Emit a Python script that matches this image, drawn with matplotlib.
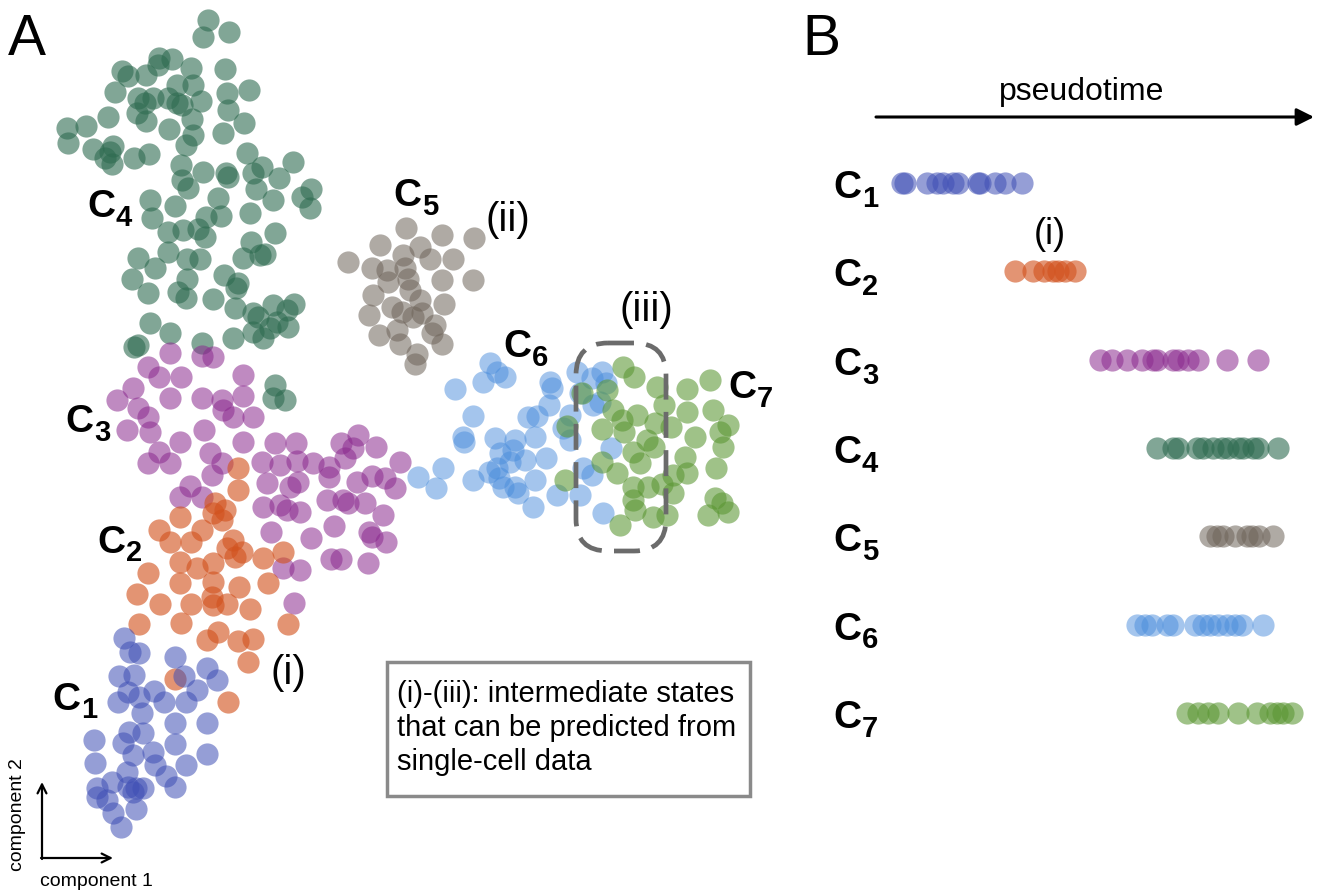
import matplotlib
matplotlib.use('Agg')
import matplotlib.pyplot as plt
from matplotlib.patches import FancyBboxPatch, Rectangle

plt.rcParams['font.family'] = ['Liberation Sans', 'DejaVu Sans']

# panel A: cells in (component 1, component 2) space, image-like units
c1_pts = [(124,638),(130,652),(139,653),(175,657),(119,676),(134,675),(184,676),(207,668),
          (217,680),(128,692),(118,702),(139,697),(154,691),(164,702),(186,702),(197,690),
          (142,713),(175,723),(207,723),(94,740),(129,732),(143,733),(123,743),(175,744),
          (133,755),(153,752),(207,754),(95,763),(155,765),(186,765),(127,772),(112,782),
          (166,776),(97,788),(128,787),(136,788),(143,788),(175,787),(133,792),(97,797),
          (107,800),(136,809),(113,813),(121,827)]

c2_pts = [(238,468),(238,490),(215,503),(213,513),(225,510),(222,520),(180,517),(159,530),
          (170,542),(191,542),(202,530),(233,540),(227,548),(242,552),(235,557),(263,558),
          (283,552),(180,562),(197,568),(213,563),(148,573),(180,583),(213,582),(239,587),
          (268,583),(137,594),(160,604),(191,604),(212,597),(213,605),(227,604),(250,609),
          (139,624),(181,623),(288,624),(207,640),(218,632),(238,641),(253,639),(248,662),
          (175,679),(228,702)]

c3_pts = [(170,353),(202,356),(213,357),(148,367),(159,377),(181,377),(243,375),(133,388),
          (117,400),(138,408),(170,398),(202,398),(222,400),(243,396),(148,417),(223,410),
          (233,417),(253,417),(127,430),(150,432),(204,430),(180,442),(243,442),(275,443),
          (296,443),(341,443),(358,435),(376,447),(353,448),(210,453),(159,452),(148,463),
          (170,463),(222,463),(262,462),(280,465),(297,461),(313,463),(329,467),(345,458),
          (400,462),(212,475),(267,483),(290,487),(298,482),(329,477),(357,482),(372,476),
          (385,478),(395,488),(190,486),(180,497),(202,497),(263,507),(280,505),(287,510),
          (300,512),(327,500),(343,500),(348,503),(365,503),(383,515),(271,532),(311,538),
          (334,526),(369,532),(372,537),(386,542),(331,559),(341,559),(368,563),(283,568),
          (300,570),(294,603)]

c4_pts = [(208,20),(229,32),(203,37),(159,58),(172,59),(158,65),(122,71),(128,76),(146,75),
          (191,68),(225,69),(177,85),(193,85),(115,92),(227,93),(249,90),(138,98),(153,98),
          (145,103),(168,98),(177,103),(182,105),(201,101),(228,110),(137,113),(146,121),
          (108,117),(192,119),(67,128),(86,126),(169,129),(193,135),(223,133),(244,123),
          (68,143),(186,145),(93,149),(113,146),(110,152),(105,158),(112,164),(134,158),
          (149,154),(247,153),(181,165),(203,172),(228,177),(226,173),(262,167),(253,173),
          (293,162),(279,178),(182,180),(188,188),(256,189),(311,189),(150,200),(218,198),
          (273,200),(302,197),(310,208),(175,206),(152,218),(168,232),(183,230),(198,229),
          (206,217),(221,216),(205,237),(250,213),(275,233),(251,242),(243,258),(260,255),
          (265,254),(138,258),(168,252),(187,259),(200,259),(155,268),(132,279),(187,279),
          (224,275),(238,283),(236,288),(148,293),(178,292),(186,298),(213,299),(235,308),
          (253,313),(258,317),(273,305),(287,310),(294,304),(277,322),(288,327),(253,332),
          (263,338),(270,328),(150,323),(170,333),(233,338),(202,343),(134,347),(138,345),
          (275,385),(285,400),(273,398)]

c5_pts = [(406,228),(442,235),(474,238),(380,245),(420,247),(403,255),(430,259),(453,259),
          (348,262),(372,268),(387,270),(405,268),(408,279),(388,282),(442,280),(473,280),
          (410,290),(373,295),(420,300),(444,304),(392,307),(402,312),(422,313),(413,317),
          (369,315),(435,325),(397,330),(379,335),(432,333),(400,344),(442,344),(417,354),
          (415,364)]

c6_pts = [(490,363),(497,372),(505,377),(483,382),(455,389),(550,382),(552,388),(577,372),
          (602,372),(592,378),(606,383),(580,393),(549,405),(593,405),(600,402),(473,416),
          (528,417),(537,416),(570,415),(563,428),(463,437),(464,442),(495,438),(515,440),
          (535,437),(513,450),(500,453),(570,440),(611,448),(525,460),(546,458),(510,462),
          (443,468),(418,477),(436,488),(473,480),(489,472),(497,468),(499,478),(535,480),
          (503,487),(515,487),(518,493),(533,507),(557,495),(580,495),(592,475),(603,513),
          (583,468)]

c7_pts = [(623,367),(634,377),(582,393),(607,390),(657,387),(687,389),(710,380),(613,410),
          (622,420),(637,415),(664,405),(687,412),(713,410),(567,426),(602,429),(624,432),
          (655,423),(671,427),(695,437),(728,425),(720,432),(647,440),(654,447),(723,447),
          (633,452),(640,463),(685,457),(602,462),(617,473),(687,473),(716,468),(673,475),
          (565,480),(633,487),(648,487),(662,484),(673,493),(633,500),(715,498),(728,512),
          (722,503),(708,515),(635,510),(653,517),(667,515),(620,525)]

# panel B: pseudotime position of cells per cluster
pt_c1 = [902, 905, 927, 937, 943, 953, 958, 978, 980, 995, 1005, 1022]
pt_c2 = [1015, 1033, 1044, 1053, 1058, 1065, 1075]
pt_c3 = [1100, 1112, 1127, 1142, 1153, 1157, 1173, 1178, 1188, 1198, 1227, 1258]
pt_c4 = [1157, 1173, 1178, 1197, 1203, 1213, 1222, 1228, 1238, 1243, 1253, 1258, 1278]
pt_c5 = [1210, 1217, 1223, 1235, 1247, 1252, 1259, 1273]
pt_c6 = [1137, 1145, 1152, 1167, 1173, 1195, 1203, 1210, 1218, 1227, 1235, 1242, 1263]
pt_c7 = [1187, 1198, 1208, 1218, 1238, 1257, 1270, 1277, 1283, 1292]

cluster_names = ['1', '2', '3', '4', '5', '6', '7']
colors = ['#3f4fb5', '#d2521e', '#8b2a8f', '#2e6b50', '#6e645a', '#4a8ddc', '#5a9632']
alphas = [0.55, 0.62, 0.55, 0.6, 0.55, 0.5, 0.58]

fig = plt.figure(figsize=(13.23, 8.92), dpi=100)
ax = fig.add_axes([0, 0, 1, 1])
ax.set_xlim(0, 1323)
ax.set_ylim(892, 0)
ax.axis('off')

size = 255
clusters = [c4_pts, c5_pts, c3_pts, c2_pts, c1_pts, c6_pts, c7_pts]
order = [3, 4, 2, 1, 0, 5, 6]
for pts, k in zip(clusters, order):
    xs = [p[0] for p in pts]
    ys = [p[1] for p in pts]
    ax.scatter(xs, ys, s=size, color=colors[k], alpha=alphas[k], linewidths=0)


def clabel(axis, x, y, n, dy_sub, fs=28, fs_sub=21):
    axis.text(x, y, 'C', fontsize=fs, fontweight='bold', ha='left', va='baseline')
    axis.text(x + 29, y + dy_sub, n, fontsize=fs_sub, fontweight='bold',
              ha='left', va='baseline')


# labels in panel A
clabel(ax, 87, 217, '4', 9)
clabel(ax, 393, 206, '5', 9)
clabel(ax, 503, 357, '6', 9)
clabel(ax, 728, 398, '7', 9)
clabel(ax, 65, 432, '3', 9)
clabel(ax, 97, 553, '2', 8)
clabel(ax, 52, 710, '1', 8)

ax.text(508, 231, '(ii)', fontsize=29, ha='center', va='baseline')
ax.text(646, 321, '(iii)', fontsize=29, ha='center', va='baseline')
ax.text(288, 684, '(i)', fontsize=29, ha='center', va='baseline')

box = FancyBboxPatch((576, 343), 90, 208, boxstyle='round,pad=0,rounding_size=32',
                     fill=False, edgecolor='#6b6b6b', linewidth=3.4,
                     linestyle=(0, (5.5, 2.6)))
ax.add_patch(box)

ax.add_patch(Rectangle((387, 662), 363, 134, fill=False, edgecolor='#8a8a8a', linewidth=2.5))
ax.text(397, 728, '(i)-(iii): intermediate states\nthat can be predicted from\nsingle-cell data',
        fontsize=21, ha='left', va='center', linespacing=1.25)

# component axes
ax.annotate('', xy=(42, 782), xytext=(42, 859),
            arrowprops=dict(arrowstyle='->', lw=1.6, color='black', mutation_scale=16,
                            shrinkA=0, shrinkB=0))
ax.annotate('', xy=(113, 858), xytext=(41, 858),
            arrowprops=dict(arrowstyle='->', lw=1.6, color='black', mutation_scale=16,
                            shrinkA=0, shrinkB=0))
ax.text(18, 815, 'component 2', fontsize=14, rotation=90, ha='center', va='center')
ax.text(96, 881, 'component 1', fontsize=14, ha='center', va='center')

ax.text(8, 55, 'A', fontsize=41, ha='left', va='baseline')
ax.text(802, 55, 'B', fontsize=41, ha='left', va='baseline')

# panel B
ax_b = fig.add_axes([0, 0, 1, 1])
ax_b.patch.set_alpha(0)
ax_b.set_xlim(0, 1323)
ax_b.set_ylim(8.027, -2.072)
ax_b.axis('off')

pseudo = [pt_c1, pt_c2, pt_c3, pt_c4, pt_c5, pt_c6, pt_c7]
for i, xs in enumerate(pseudo):
    ax_b.scatter(xs, [i] * len(xs), s=size, color=colors[i], alpha=alphas[i], linewidths=0)
    ax_b.text(833, i + 0.17, 'C', fontsize=28, fontweight='bold', ha='left', va='baseline')
    ax_b.text(862, i + 0.27, cluster_names[i], fontsize=21, fontweight='bold',
              ha='left', va='baseline')

ax_b.text(1050, 0.69, '(i)', fontsize=26, ha='center', va='baseline')

ax.annotate('', xy=(1314, 117), xytext=(876, 117),
            arrowprops=dict(arrowstyle='-|>', lw=2.2, color='black', mutation_scale=26,
                            shrinkA=0, shrinkB=0))
ax.text(1082, 100, 'pseudotime', fontsize=23, ha='center', va='baseline')

fig.savefig('out.png', dpi=100)
